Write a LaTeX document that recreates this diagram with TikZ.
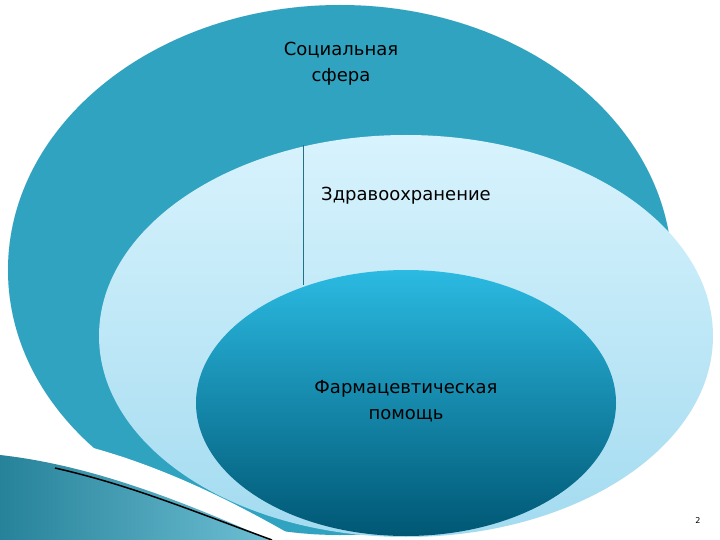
\documentclass[tikz,border=0pt]{standalone}
\usepackage{fontspec}
\setmainfont{DejaVu Sans}
\begin{document}
\begin{tikzpicture}[x=1pt,y=-1pt,
  lbl/.style={font=\fontsize{18}{26}\selectfont,align=center,text=black}]
\useasboundingbox (0,0) rectangle (720,540);
\clip (0,0) rectangle (720,540);
\definecolor{outerc}{HTML}{2FA3C0}
\definecolor{midtop}{HTML}{D8F3FD}
\definecolor{midbot}{HTML}{A3DBF0}
\definecolor{intop}{HTML}{2BBAE2}
\definecolor{inbot}{HTML}{005774}
\fill[white] (0,0) rectangle (720,540);
\fill[outerc] (340,270) ellipse [x radius=332, y radius=265];
\draw[outerc!60!gray, very thin, densely dotted] (340,270) ellipse [x radius=332, y radius=265];
\shade[top color=midtop, bottom color=midbot] (406,336) ellipse [x radius=307, y radius=201];
\draw[outerc!70!black, thin] (303,145) -- (303,285);
\shade[top color=intop, bottom color=inbot] (406,403) ellipse [x radius=210, y radius=133];
% swoosh
\fill[white] (0,430) .. controls (90,440) and (180,470) .. (300,540) -- (0,540) -- cycle;
\shade[left color=outerc!80!black, right color=outerc!70!white] (0,455) .. controls (90,465) and (180,500) .. (270,540) -- (0,540) -- cycle;
\draw[black, line width=1.5pt] (55,468) .. controls (130,485) and (190,510) .. (272,540);
\node[lbl] (soc) at (341,64) {Социальная\\ сфера};
\node[lbl] (zdr) at (406,196) {Здравоохранение};
\node[lbl] (farm) at (406,401) {Фармацевтическая\\ помощь};
\node[font=\fontsize{8}{10}\selectfont] (num) at (698,521) {2};
\end{tikzpicture}
\end{document}
